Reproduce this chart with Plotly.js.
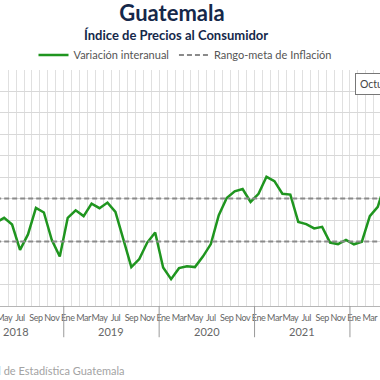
<!DOCTYPE html>
<html><head><meta charset="utf-8">
<script src="https://cdn.plot.ly/plotly-3.0.1.min.js"></script>
<style>html,body{margin:0;padding:0;background:#fff;overflow:hidden}#chart{width:380px;height:380px}
#chart .xtick text{letter-spacing:-0.45px}</style>
</head><body><div id="chart"></div>
<script>
// ---- data ----
const fechas = ['2018-04','2018-05','2018-06','2018-07','2018-08','2018-09','2018-10','2018-11','2018-12',
  '2019-01','2019-02','2019-03','2019-04','2019-05','2019-06','2019-07','2019-08','2019-09','2019-10','2019-11','2019-12',
  '2020-01','2020-02','2020-03','2020-04','2020-05','2020-06','2020-07','2020-08','2020-09','2020-10','2020-11','2020-12',
  '2021-01','2021-02','2021-03','2021-04','2021-05','2021-06','2021-07','2021-08','2021-09','2021-10','2021-11','2021-12',
  '2022-01','2022-02','2022-03','2022-04','2022-05'];
const variacion = [3.89,4.10,3.79,2.61,3.33,4.56,4.35,3.07,2.30,
  4.10,4.45,4.18,4.76,4.55,4.81,4.38,3.10,1.81,2.18,2.95,3.42,
  1.79,1.25,1.76,1.85,1.81,2.30,2.88,4.22,5.02,5.33,5.44,4.84,
  5.22,6.01,5.81,5.22,5.18,3.91,3.81,3.61,3.68,2.95,2.88,3.07,
  2.87,2.99,4.18,4.61,5.80];
const metaInferior = [3, 3];
const metaSuperior = [5, 5];
const mesesAbrev = ['Ene','Feb','Mar','Abr','May','Jun','Jul','Ago','Sep','Oct','Nov','Dic'];
const mesesEtiquetados = [1, 3, 5, 7, 9, 11];
const anios = [2018, 2019, 2020, 2021, 2022];
const nombreSerie = 'Variación interanual';
const nombreMeta = 'Rango-meta de Inflación';
const titulo = 'Guatemala';
const subtitulo = 'Índice de Precios al Consumidor';
const fuente = 'Fuente: Instituto Nacional de Estadística Guatemala';
const boton = 'Octubre 2022';

// ---- helpers ----
const idx = f => { const [y, m] = f.split('-').map(Number); return (y - 2019) * 12 + (m - 1); };
const xs = fechas.map(idx);
const xMin = Math.min(...xs), xMax = Math.max(...xs);

const tickvals = [], ticktext = [];
anios.forEach(y => mesesEtiquetados.forEach(m => { tickvals.push((y - 2019) * 12 + m - 1); ticktext.push(mesesAbrev[m - 1]); }));

const W = 380, H = 380, plotTop = 68, plotBottom = 306.5;
const py = p => (plotBottom - p) / (plotBottom - plotTop); // pixel -> paper y
const px = p => p / W;                                      // pixel -> paper x (no side margins)

const annotations = [];
anios.forEach(y => annotations.push({
  text: String(y), xref: 'x', yref: 'paper', x: (y - 2019) * 12 + 5.5, y: py(332.5),
  xanchor: 'center', yanchor: 'middle', showarrow: false, font: {size: 11, color: '#666'}
}));
annotations.push({text: '<b>' + subtitulo + '</b>', xref: 'paper', yref: 'paper', x: px(176), y: py(33.5),
  xanchor: 'center', yanchor: 'middle', showarrow: false, font: {size: 13, color: '#15284a'}});
annotations.push({text: fuente, xref: 'paper', yref: 'paper', x: px(127), y: py(372),
  xanchor: 'right', yanchor: 'middle', showarrow: false, font: {size: 11, color: '#a3a3a3'}});
annotations.push({text: boton, xref: 'paper', yref: 'paper', x: px(355), y: py(82.5),
  xanchor: 'left', yanchor: 'middle', showarrow: false, font: {size: 10.5, color: '#444'},
  bgcolor: '#fff', bordercolor: '#777', borderwidth: 1, borderpad: 4});

const shapes = anios.slice(1).map(y => ({
  type: 'line', xref: 'x', yref: 'paper', x0: (y - 2019) * 12 - 0.5, x1: (y - 2019) * 12 - 0.5,
  y0: 0, y1: py(338), line: {color: '#9a9a9a', width: 1}
}));

const traces = [
  {x: xs, y: variacion, type: 'scatter', mode: 'lines', name: nombreSerie,
   line: {color: '#1f951f', width: 2.5}, hoverinfo: 'skip'},
  {x: [xMin, xMax, null, xMin, xMax], y: [metaInferior[0], metaInferior[1], null, metaSuperior[0], metaSuperior[1]],
   type: 'scatter', mode: 'lines', name: nombreMeta, connectgaps: false,
   line: {color: '#8a8a8a', width: 2, dash: '5px,3px'}, hoverinfo: 'skip'}
];

const layout = {
  width: W, height: H,
  margin: {l: 0, r: 0, t: plotTop, b: H - plotBottom, pad: 0},
  paper_bgcolor: '#fff', plot_bgcolor: '#fff',
  font: {family: 'Lato, "Open Sans", sans-serif', color: '#555'},
  title: {text: '<b>' + titulo + '</b>', x: px(172), xref: 'container', xanchor: 'center',
    y: 1 - 13 / H, yref: 'container', yanchor: 'middle',
    font: {size: 22, color: '#15284a', family: 'Lato, sans-serif', weight: 900}},
  legend: {orientation: 'h', x: px(185), xanchor: 'center', xref: 'container', y: 1 - 55 / H, yref: 'container',
    yanchor: 'middle', font: {size: 11, color: '#555'}, bgcolor: 'rgba(0,0,0,0)'},
  showlegend: true,
  xaxis: {
    range: [-8.52, 39.28], tickmode: 'array', tickvals: tickvals, ticktext: ticktext, tickangle: 0,
    ticklabeloverflow: 'allow', ticklabelstandoff: 3,
    showgrid: false, zeroline: false, showline: true, linecolor: '#b5b5b5', linewidth: 1,
    ticks: '', tickfont: {size: 9, color: '#666'},
    minor: {tickmode: 'linear', tick0: -0.5, dtick: 1, showgrid: true, gridcolor: '#e0e0e0', gridwidth: 1, ticks: ''},
    fixedrange: true
  },
  yaxis: {range: [0, 11], dtick: 1, showgrid: true, gridcolor: '#d8d8d8', gridwidth: 1,
    zeroline: false, showticklabels: false, fixedrange: true},
  annotations: annotations,
  shapes: shapes,
  hovermode: false
};

Plotly.newPlot('chart', traces, layout, {displayModeBar: false, staticPlot: true});
</script></body></html>
